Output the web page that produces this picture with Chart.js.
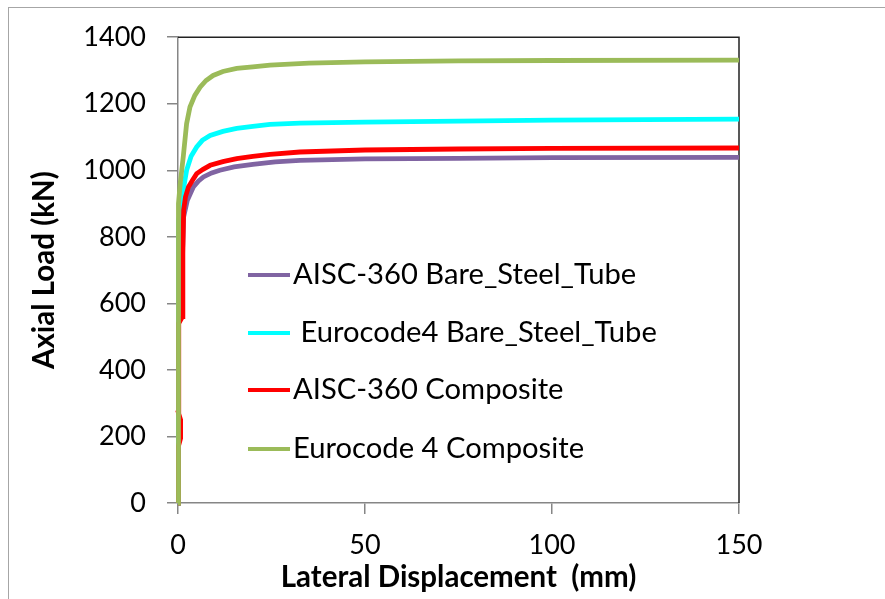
<!DOCTYPE html>
<html>
<head>
<meta charset="utf-8">
<script src="https://cdn.jsdelivr.net/npm/chart.js@4.4.1/dist/chart.umd.min.js"></script>
<style>
    html, body { margin: 0; padding: 0; background: #fff; }
    #wrap { position: relative; width: 885px; height: 599px; overflow: hidden; }
    #frame { position: absolute; left: 8px; top: 7px; width: 900px; height: 620px;
             border-left: 1px solid #a6a6a6; border-top: 1px solid #a6a6a6; }
    canvas { position: absolute; left: 0; top: 0; }
</style>
</head>
<body>
<div id="wrap">
    <div id="frame"></div>
    <canvas id="chart" width="885" height="599"></canvas>
</div>
<script>
// Series labels (legend order)
const seriesLabels = ['AISC-360 Bare_Steel_Tube', ' Eurocode4 Bare_Steel_Tube', 'AISC-360 Composite', 'Eurocode 4 Composite'];
const seriesColors = ['#8064a2', '#00ffff', '#ff0000', '#9bbb59'];

// Lateral displacement (mm) / axial load (kN)
const aiscBareDisp = [0, 0.15, 1.0, 1.1, 1.5, 2.5, 4.1, 5.5, 6.8, 9, 11.2, 15, 20, 26, 32.6, 50, 75, 100, 150];
const aiscBareLoad = [0, 540, 560, 720, 860, 910, 950, 968, 980, 992, 1000, 1010, 1018, 1025, 1030, 1034, 1036, 1038, 1039];

const ec4BareDisp = [0, 0.15, 1.1, 1.7, 2.3, 3.5, 5, 6.5, 8.6, 12, 15.7, 20, 24.6, 32.6, 50, 75, 100, 150];
const ec4BareLoad = [0, 850, 900, 960, 1000, 1042, 1070, 1090, 1105, 1117, 1126, 1132, 1138, 1142, 1145, 1148, 1151, 1154];

const aiscCompDisp = [0, 0.1, 0.7, 0.7, 0.15, 0.2, 1.2, 1.3, 1.5, 2, 2.8, 4, 5, 6.7, 8.6, 12, 15.7, 20, 24.6, 32.6, 50, 75, 100, 150];
const aiscCompLoad = [0, 170, 195, 250, 270, 540, 560, 750, 880, 920, 950, 972, 990, 1003, 1015, 1026, 1035, 1042, 1048, 1055, 1061, 1064, 1066, 1067];

const ec4CompDisp = [0, 0.1, 0.15, 0.6, 1.4, 2.3, 3.2, 4.5, 5.9, 7.5, 9.4, 12, 15.7, 20, 24.6, 35, 50, 75, 100, 150];
const ec4CompLoad = [0, 500, 900, 960, 1040, 1140, 1190, 1225, 1250, 1270, 1285, 1297, 1306, 1311, 1316, 1322, 1326, 1329, 1330, 1331];

const xTicks = [0, 50, 100, 150];
const yTicks = [0, 200, 400, 600, 800, 1000, 1200, 1400];

const tickFont = { family: 'Lato', size: 27 };
const titleFont = { family: 'Lato', size: 29.5, weight: 'bold' };

function toPoints(xs, ys) {
    return xs.map((x, i) => ({ x: x, y: ys[i] }));
}

const seriesData = [
    toPoints(aiscBareDisp, aiscBareLoad),
    toPoints(ec4BareDisp, ec4BareLoad),
    toPoints(aiscCompDisp, aiscCompLoad),
    toPoints(ec4CompDisp, ec4CompLoad)
];

// top and right border of the plot area
const plotFrame = {
    id: 'plotFrame',
    beforeDatasetsDraw(chart) {
        const { ctx, chartArea: a } = chart;
        ctx.save();
        ctx.strokeStyle = '#222';
        ctx.lineWidth = 1.5;
        ctx.beginPath();
        ctx.moveTo(a.left, a.top);
        ctx.lineTo(a.right, a.top);
        ctx.lineTo(a.right, a.bottom);
        ctx.stroke();
        ctx.restore();
    }
};

// legend sitting inside the plot
const innerLegend = {
    id: 'innerLegend',
    afterDatasetsDraw(chart) {
        const ctx = chart.ctx;
        const rows = [275, 333, 390, 449];
        ctx.save();
        ctx.font = '29.2px Lato';
        ctx.textBaseline = 'middle';
        chart.data.datasets.forEach((ds, i) => {
            ctx.strokeStyle = ds.borderColor;
            ctx.lineWidth = 4;
            ctx.beginPath();
            ctx.moveTo(248, rows[i]);
            ctx.lineTo(290, rows[i]);
            ctx.stroke();
            ctx.fillStyle = '#000';
            ctx.fillText(ds.label, 293, rows[i]);
        });
        ctx.restore();
    }
};

new Chart(document.getElementById('chart'), {
    type: 'line',
    data: {
        datasets: seriesData.map((pts, i) => ({
            label: seriesLabels[i],
            data: pts,
            borderColor: seriesColors[i],
            backgroundColor: seriesColors[i],
            borderWidth: 4.8,
            pointRadius: 0,
            tension: 0,
            fill: false,
            clip: 6,
            order: 4 - i
        }))
    },
    options: {
        responsive: false,
        animation: false,
        devicePixelRatio: 1,
        layout: { padding: { left: 10, top: 37, right: 146, bottom: 0 } },
        plugins: { legend: { display: false }, tooltip: { enabled: false } },
        scales: {
            x: {
                type: 'linear',
                min: 0,
                max: 150,
                afterBuildTicks: s => { s.ticks = xTicks.map(v => ({ value: v })); },
                afterFit: s => { s.height = 96; },
                grid: { drawOnChartArea: false, tickLength: 11, color: '#868686', lineWidth: 1.5 },
                border: { color: '#868686', width: 1.5 },
                ticks: { font: tickFont, color: '#000', padding: 15, maxRotation: 0,
                         callback: v => String(v) },
                title: { display: true, text: 'Lateral Displacement  (mm)', font: titleFont, color: '#000',
                         padding: { top: 0, bottom: 4 } }
            },
            y: {
                type: 'linear',
                min: 0,
                max: 1400,
                afterBuildTicks: s => { s.ticks = yTicks.map(v => ({ value: v })); },
                afterFit: s => { s.width = 168; },
                grid: { drawOnChartArea: false, tickLength: 11, color: '#868686', lineWidth: 1.5 },
                border: { color: '#868686', width: 1.5 },
                ticks: { font: tickFont, color: '#000', padding: 21, callback: v => String(v) },
                title: { display: true, text: 'Axial Load (kN)', font: titleFont, color: '#000',
                         padding: { top: 17, bottom: 0 } }
            }
        }
    },
    plugins: [plotFrame, innerLegend]
});
</script>
</body>
</html>
